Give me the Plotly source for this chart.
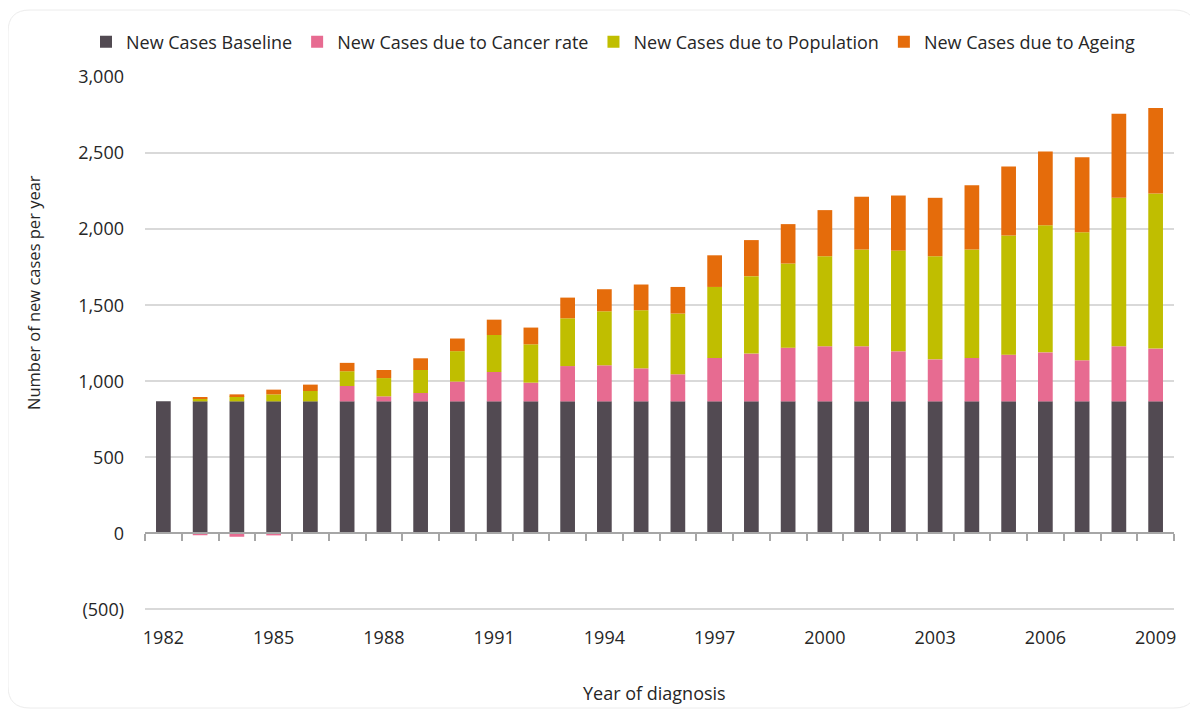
import plotly.graph_objects as go

years = list(range(1982, 2010))
baseline = [868, 868, 868, 868, 868, 868, 868, 868, 868, 868, 868, 868, 868, 868,
            868, 868, 868, 868, 868, 868, 868, 868, 868, 868, 868, 868, 868, 868]
cancer_rate = [0, -12, -22, -13, 0, 101, 33, 55, 130, 193, 123, 232, 237, 217,
               178, 285, 314, 353, 362, 362, 329, 276, 285, 307, 322, 270, 362, 347]
population = [0, 17, 33, 46, 68, 97, 120, 151, 200, 243, 252, 314, 355, 382,
              399, 467, 509, 553, 592, 636, 662, 678, 713, 783, 836, 842, 976, 1020]
ageing = [0, 10, 13, 31, 42, 55, 53, 77, 83, 101, 110, 136, 145, 169,
          175, 208, 237, 259, 303, 347, 362, 384, 423, 454, 485, 493, 553, 561]

series_names = ["New Cases Baseline", "New Cases due to Cancer rate",
                "New Cases due to Population", "New Cases due to Ageing"]
series_values = [baseline, cancer_rate, population, ageing]
colors = ["#524a52", "#e76b91", "#c0be00", "#e56c0b"]

x_label_years = [1982, 1985, 1988, 1991, 1994, 1997, 2000, 2003, 2006, 2009]
y_tick_vals = [-500, 0, 500, 1000, 1500, 2000, 2500, 3000]
y_tick_text = ["(500)", "0", "500", "1,000", "1,500", "2,000", "2,500", "3,000"]

FONT = "Open Sans"
TXT = "#262626"
Y_MIN, Y_MAX = -510, 3000

fig = go.Figure()
for name, vals, col in zip(series_names, series_values, colors):
    fig.add_trace(go.Bar(x=years, y=vals, name=name, marker_color=col,
                         marker_line_width=0, width=0.4))

# dummy trace so the zero-line category axis renders
fig.add_trace(go.Scatter(x=years, y=[None] * len(years), xaxis="x2", yaxis="y",
                         showlegend=False, hoverinfo="skip", mode="markers"))

# page body has an 8px margin; the figure is sized to fill the rest
OFF = 8
W, H = 1198 - OFF, 712 - OFF
PL, PR, PT, PB = 145, 1174, 77, 611  # plot area in screen pixels
L, T = PL - OFF, PT - OFF
R = W - (PR - OFF)
B = H - (PB - OFF)
pw, ph = PR - PL, PB - PT


def px(x):
    return (x - PL) / pw


def py(y):
    return (PB - y) / ph


# rounded border (decoration)
x0, x1, y0, y1, r = 8, 1196, 10, 708, 22
path = (f"M {px(x0 + r)},{py(y0)} L {px(x1 - r)},{py(y0)} "
        f"Q {px(x1)},{py(y0)} {px(x1)},{py(y0 + r)} "
        f"L {px(x1)},{py(y1 - r)} Q {px(x1)},{py(y1)} {px(x1 - r)},{py(y1)} "
        f"L {px(x0 + r)},{py(y1)} Q {px(x0)},{py(y1)} {px(x0)},{py(y1 - r)} "
        f"L {px(x0)},{py(y0 + r)} Q {px(x0)},{py(y0)} {px(x0 + r)},{py(y0)} Z")

fig.update_layout(
    width=W, height=H,
    margin=dict(l=L, r=R, t=T, b=B),
    barmode="relative",
    plot_bgcolor="white", paper_bgcolor="white",
    font=dict(family=FONT, size=18, color=TXT),
    showlegend=True,
    legend=dict(orientation="h", x=px(86), y=py(42), xanchor="left", yanchor="middle",
                font=dict(family=FONT, size=18, color=TXT), itemwidth=30,
                traceorder="normal", bgcolor="rgba(0,0,0,0)"),
    xaxis=dict(range=[1981.5, 2009.5], tickvals=x_label_years,
               ticktext=[str(v) for v in x_label_years], showgrid=False,
               showline=False, zeroline=False, ticks="", ticklabelstandoff=14,
               tickfont=dict(family=FONT, size=18, color=TXT)),
    xaxis2=dict(range=[1981.5, 2009.5], overlaying="x", anchor="free",
                position=(0 - Y_MIN) / (Y_MAX - Y_MIN), showgrid=False,
                zeroline=False, showline=True, linecolor="#a6a6a6", linewidth=1.5,
                tickvals=[1981.5 + i for i in range(len(years) + 1)],
                ticks="outside", ticklen=7, tickcolor="#a6a6a6", tickwidth=1.5,
                showticklabels=False),
    yaxis=dict(range=[Y_MIN, Y_MAX], tickvals=y_tick_vals, ticktext=y_tick_text,
               showgrid=True, gridcolor="#d9d9d9", gridwidth=1.5, zeroline=False,
               showline=False, ticks="", ticklabelstandoff=20,
               tickfont=dict(family=FONT, size=18, color=TXT)),
    annotations=[
        dict(text="Number of new cases per year", x=px(33), y=py(293),
             xref="paper", yref="paper", textangle=-90, showarrow=False,
             font=dict(family=FONT, size=16.5, color=TXT),
             xanchor="center", yanchor="middle"),
        dict(text="Year of diagnosis", x=px(654), y=py(693), xref="paper",
             yref="paper", showarrow=False,
             font=dict(family=FONT, size=18, color=TXT),
             xanchor="center", yanchor="middle"),
    ],
    shapes=[dict(type="path", path=path, xref="paper", yref="paper",
                 line=dict(color="#ececec", width=1), layer="below")],
)

fig.write_html("out.html")
